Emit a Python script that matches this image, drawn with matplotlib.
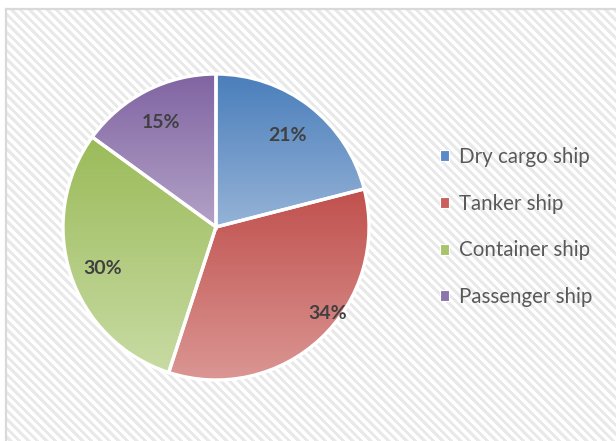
import matplotlib.pyplot as plt
import matplotlib.patches as mpatches
import numpy as np
from matplotlib.colors import to_rgb

categories = ["Dry cargo ship", "Tanker ship", "Container ship", "Passenger ship"]
shares = [21, 34, 30, 15]

# gradient colours for each slice: (top, bottom)
top_colors = ["#4a7ebb", "#c0504d", "#9bbb59", "#8064a2"]
bottom_colors = ["#95b3d7", "#db9794", "#c8dba4", "#b3a2c7"]
legend_colors = ["#5b8bc6", "#c9605d", "#a8c46b", "#8c74ad"]

# label placement: fraction of radius and angle shift (degrees)
label_radius = [0.76, 0.92, 0.79, 0.77]
label_shift = [0, 9, 2, 1]

W, H = 616, 441


# striped chart-area background with a thin grey frame
def draw_background(fig) -> None:
    bg = fig.add_axes([0, 0, 1, 1])
    bg.set_axis_off()
    yy, xx = np.mgrid[0:H, 0:W]
    phase = (xx - yy) % 9
    img = np.ones((H, W, 3))
    img[phase < 4] = 0.915
    img[(phase == 4) & ((xx + yy) % 2 == 0)] = 0.95
    img[:9, :] = 1.0
    img[:, :6] = 1.0
    bg.imshow(img, extent=[0, W, H, 0], interpolation="nearest", aspect="auto")
    bg.plot([6, 6], [9, H], color="#d9d9d9", lw=1.6)
    bg.plot([6, W], [9, 9], color="#d9d9d9", lw=1.6)
    bg.set_xlim(0, W)
    bg.set_ylim(H, 0)


# fills a wedge with a vertical gradient over its bounding box
def gradient_fill(ax, wedge, top, bottom) -> None:
    path = wedge.get_path()
    verts = wedge.get_patch_transform().transform(path.vertices)
    x0, y0 = verts.min(axis=0)
    x1, y1 = verts.max(axis=0)
    t = np.linspace(0, 1, 256)[:, None]
    c0 = np.array(to_rgb(top))
    c1 = np.array(to_rgb(bottom))
    grad = (c0 * (1 - t) + c1 * t)[:, None, :]
    im = ax.imshow(grad, extent=[x0, x1, y0, y1], origin="upper",
                   aspect="auto", interpolation="bilinear", zorder=1)
    im.set_clip_path(wedge)


def main():
    fig = plt.figure(figsize=(W / 100, H / 100), dpi=100)
    draw_background(fig)

    cx, cy, r = 216, 227, 153
    ax = fig.add_axes([(cx - r) / W, (H - cy - r) / H, 2 * r / W, 2 * r / H])
    wedges, _ = ax.pie(shares, startangle=90, counterclock=False,
                       wedgeprops=dict(edgecolor="white", linewidth=2.4))
    for w, top, bottom in zip(wedges, top_colors, bottom_colors):
        w.set_facecolor("none")
        w.set_zorder(2)
        gradient_fill(ax, w, top, bottom)

    for w, val, rf, sh in zip(wedges, shares, label_radius, label_shift):
        ang = np.deg2rad((w.theta1 + w.theta2) / 2 + sh)
        ax.text(rf * np.cos(ang), rf * np.sin(ang), f"{val}%", ha="center",
                va="center", fontsize=14, fontweight="bold",
                color="#404040", family="Lato", zorder=3)
    ax.set_xlim(-1, 1)
    ax.set_ylim(-1, 1)
    ax.set_axis_off()

    handles = [mpatches.Patch(facecolor=c, edgecolor="white", lw=0.8)
               for c in legend_colors]
    fig.legend(handles, categories, loc="center left",
               bbox_to_anchor=(421 / W, 1 - 227 / H), frameon=False,
               prop=dict(family="Lato", size=14.8), labelcolor="#595959",
               handlelength=0.45, handleheight=0.45, handletextpad=0.5,
               labelspacing=1.3)

    plt.savefig("out.png", dpi=100)


if __name__ == "__main__":
    main()
